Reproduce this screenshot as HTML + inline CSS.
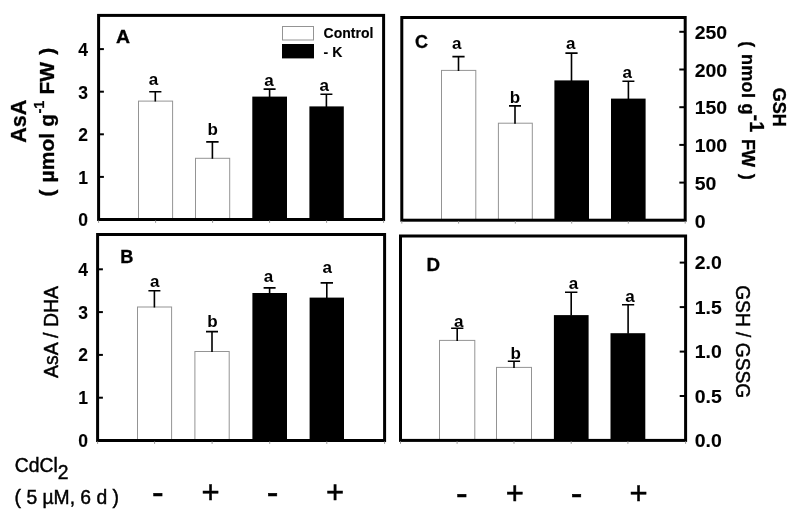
<!DOCTYPE html>
<html lang="en"><head><meta charset="utf-8"><title>Figure</title>
<style>html,body{margin:0;padding:0;background:#fff}svg{display:block}text{font-family:"Liberation Sans", Arial, Helvetica, sans-serif;fill:#000}.b{font-weight:bold;stroke:#000;stroke-width:.3px}.s{font-weight:bold}.t{font-weight:bold;stroke:#000;stroke-width:.1px}.l{font-weight:bold;stroke:#000;stroke-width:.15px}.r{stroke:#000;stroke-width:.45px}.pm{stroke:#000;stroke-width:.5px}</style></head><body>
<svg width="800" height="527" viewBox="0 0 800 527">
<rect x="0" y="0" width="800" height="527" fill="#fff"/>
<rect x="138.5" y="101.1" width="34.1" height="118.4" fill="#fff" stroke="#949494" stroke-width="1"/>
<path d="M155.3 101.6V91.8M149.2 91.8H161.4" stroke="#000" stroke-width="1.6" fill="none"/>
<rect x="195.5" y="158.3" width="34.2" height="61.2" fill="#fff" stroke="#949494" stroke-width="1"/>
<path d="M212.4 158.8V141.9M206.2 141.9H218.6" stroke="#000" stroke-width="1.6" fill="none"/>
<rect x="252.3" y="96.6" width="34.7" height="122.9" fill="#000"/>
<path d="M269.6 97.1V89.1M263.6 89.1H275.6" stroke="#000" stroke-width="1.6" fill="none"/>
<rect x="309.4" y="106.4" width="34.4" height="113.1" fill="#000"/>
<path d="M326.4 106.9V94.3M320.4 94.3H332.4" stroke="#000" stroke-width="1.6" fill="none"/>
<rect x="98.6" y="15.4" width="285.0" height="204.1" fill="none" stroke="#000" stroke-width="3.0"/>
<rect x="137.5" y="307.0" width="34.1" height="133.5" fill="#fff" stroke="#949494" stroke-width="1"/>
<path d="M154.4 307.5V290.8M148.4 290.8H160.4" stroke="#000" stroke-width="1.6" fill="none"/>
<rect x="194.9" y="351.5" width="34.3" height="89.0" fill="#fff" stroke="#949494" stroke-width="1"/>
<path d="M212.0 352.0V331.6M206.0 331.6H218.0" stroke="#000" stroke-width="1.6" fill="none"/>
<rect x="252.4" y="293.0" width="34.6" height="147.5" fill="#000"/>
<path d="M269.6 293.5V287.9M263.6 287.9H275.6" stroke="#000" stroke-width="1.6" fill="none"/>
<rect x="309.6" y="297.6" width="34.4" height="142.9" fill="#000"/>
<path d="M326.8 298.1V282.9M320.6 282.9H333.0" stroke="#000" stroke-width="1.6" fill="none"/>
<rect x="97.6" y="234.5" width="287.0" height="206.0" fill="none" stroke="#000" stroke-width="3.0"/>
<rect x="441.5" y="70.4" width="34.3" height="149.8" fill="#fff" stroke="#949494" stroke-width="1"/>
<path d="M458.5 70.9V56.6M452.4 56.6H464.6" stroke="#000" stroke-width="1.6" fill="none"/>
<rect x="498.4" y="123.2" width="33.9" height="97.0" fill="#fff" stroke="#949494" stroke-width="1"/>
<path d="M515.0 123.7V105.9M509.0 105.9H521.0" stroke="#000" stroke-width="1.6" fill="none"/>
<rect x="554.4" y="80.4" width="34.6" height="139.8" fill="#000"/>
<path d="M571.5 80.9V53.1M565.4 53.1H577.6" stroke="#000" stroke-width="1.6" fill="none"/>
<rect x="611.0" y="98.6" width="34.6" height="121.6" fill="#000"/>
<path d="M628.4 99.1V81.3M622.4 81.3H634.4" stroke="#000" stroke-width="1.6" fill="none"/>
<rect x="401.8" y="17.5" width="283.4" height="202.7" fill="none" stroke="#000" stroke-width="3.0"/>
<rect x="439.5" y="340.4" width="35.3" height="100.0" fill="#fff" stroke="#949494" stroke-width="1"/>
<path d="M457.2 340.9V328.3M451.1 328.3H463.4" stroke="#000" stroke-width="1.6" fill="none"/>
<rect x="496.5" y="367.4" width="35.0" height="73.0" fill="#fff" stroke="#949494" stroke-width="1"/>
<path d="M514.0 367.9V361.3M507.8 361.3H520.1" stroke="#000" stroke-width="1.6" fill="none"/>
<rect x="553.9" y="315.1" width="34.7" height="125.3" fill="#000"/>
<path d="M571.2 315.6V292.3M565.0 292.3H577.4" stroke="#000" stroke-width="1.6" fill="none"/>
<rect x="610.5" y="333.2" width="34.8" height="107.2" fill="#000"/>
<path d="M628.1 333.7V304.8M622.0 304.8H634.2" stroke="#000" stroke-width="1.6" fill="none"/>
<rect x="400.5" y="236.0" width="285.1" height="204.4" fill="none" stroke="#000" stroke-width="3.0"/>
<path d="M98.6 176.9H103.9" stroke="#000" stroke-width="2"/>
<path d="M98.6 134.3H103.9" stroke="#000" stroke-width="2"/>
<path d="M98.6 91.7H103.9" stroke="#000" stroke-width="2"/>
<path d="M98.6 49.1H103.9" stroke="#000" stroke-width="2"/>
<path d="M97.6 397.7H102.9" stroke="#000" stroke-width="2"/>
<path d="M97.6 354.9H102.9" stroke="#000" stroke-width="2"/>
<path d="M97.6 312.1H102.9" stroke="#000" stroke-width="2"/>
<path d="M97.6 269.3H102.9" stroke="#000" stroke-width="2"/>
<path d="M679.3 182.6H685.2" stroke="#000" stroke-width="2"/>
<path d="M679.3 144.9H685.2" stroke="#000" stroke-width="2"/>
<path d="M679.3 107.2H685.2" stroke="#000" stroke-width="2"/>
<path d="M679.3 69.5H685.2" stroke="#000" stroke-width="2"/>
<path d="M679.3 31.8H685.2" stroke="#000" stroke-width="2"/>
<path d="M679.7 396.0H685.6" stroke="#000" stroke-width="2"/>
<path d="M679.7 351.6H685.6" stroke="#000" stroke-width="2"/>
<path d="M679.7 307.1H685.6" stroke="#000" stroke-width="2"/>
<path d="M679.7 262.6H685.6" stroke="#000" stroke-width="2"/>
<path d="M98.6 220.5v2.4" stroke="#999" stroke-width="1"/>
<path d="M155.6 220.5v2.4" stroke="#999" stroke-width="1"/>
<path d="M212.6 220.5v2.4" stroke="#999" stroke-width="1"/>
<path d="M269.6 220.5v2.4" stroke="#999" stroke-width="1"/>
<path d="M326.6 220.5v2.4" stroke="#999" stroke-width="1"/>
<path d="M383.6 220.5v2.4" stroke="#999" stroke-width="1"/>
<path d="M97.6 441.5v2.4" stroke="#999" stroke-width="1"/>
<path d="M154.6 441.5v2.4" stroke="#999" stroke-width="1"/>
<path d="M212.1 441.5v2.4" stroke="#999" stroke-width="1"/>
<path d="M269.7 441.5v2.4" stroke="#999" stroke-width="1"/>
<path d="M326.8 441.5v2.4" stroke="#999" stroke-width="1"/>
<path d="M384.6 441.5v2.4" stroke="#999" stroke-width="1"/>
<path d="M401.8 221.2v2.4" stroke="#999" stroke-width="1"/>
<path d="M458.6 221.2v2.4" stroke="#999" stroke-width="1"/>
<path d="M515.3 221.2v2.4" stroke="#999" stroke-width="1"/>
<path d="M571.7 221.2v2.4" stroke="#999" stroke-width="1"/>
<path d="M628.3 221.2v2.4" stroke="#999" stroke-width="1"/>
<path d="M685.2 221.2v2.4" stroke="#999" stroke-width="1"/>
<path d="M400.5 441.4v2.4" stroke="#999" stroke-width="1"/>
<path d="M457.1 441.4v2.4" stroke="#999" stroke-width="1"/>
<path d="M514.0 441.4v2.4" stroke="#999" stroke-width="1"/>
<path d="M571.2 441.4v2.4" stroke="#999" stroke-width="1"/>
<path d="M627.9 441.4v2.4" stroke="#999" stroke-width="1"/>
<path d="M685.6 441.4v2.4" stroke="#999" stroke-width="1"/>
<text x="88.0" y="226.4" font-size="17.5" text-anchor="end" class="t">0</text>
<text x="88.0" y="183.8" font-size="17.5" text-anchor="end" class="t">1</text>
<text x="88.0" y="141.2" font-size="17.5" text-anchor="end" class="t">2</text>
<text x="88.0" y="98.6" font-size="17.5" text-anchor="end" class="t">3</text>
<text x="88.0" y="56.0" font-size="17.5" text-anchor="end" class="t">4</text>
<text x="88.0" y="446.9" font-size="17.5" text-anchor="end" class="t">0</text>
<text x="88.0" y="404.1" font-size="17.5" text-anchor="end" class="t">1</text>
<text x="88.0" y="361.3" font-size="17.5" text-anchor="end" class="t">2</text>
<text x="88.0" y="318.5" font-size="17.5" text-anchor="end" class="t">3</text>
<text x="88.0" y="275.7" font-size="17.5" text-anchor="end" class="t">4</text>
<text transform="translate(694.7 227.5) scale(1.080 1)" font-size="18.0" text-anchor="start" class="t">0</text>
<text transform="translate(694.7 189.8) scale(1.080 1)" font-size="18.0" text-anchor="start" class="t">50</text>
<text transform="translate(694.7 152.1) scale(1.080 1)" font-size="18.0" text-anchor="start" class="t">100</text>
<text transform="translate(694.7 114.4) scale(1.080 1)" font-size="18.0" text-anchor="start" class="t">150</text>
<text transform="translate(694.7 76.7) scale(1.080 1)" font-size="18.0" text-anchor="start" class="t">200</text>
<text transform="translate(694.7 39.0) scale(1.080 1)" font-size="18.0" text-anchor="start" class="t">250</text>
<text transform="translate(694.7 447.1) scale(1.080 1)" font-size="18.0" text-anchor="start" class="t">0.0</text>
<text transform="translate(694.7 402.6) scale(1.080 1)" font-size="18.0" text-anchor="start" class="t">0.5</text>
<text transform="translate(694.7 358.2) scale(1.080 1)" font-size="18.0" text-anchor="start" class="t">1.0</text>
<text transform="translate(694.7 313.7) scale(1.080 1)" font-size="18.0" text-anchor="start" class="t">1.5</text>
<text transform="translate(694.7 269.2) scale(1.080 1)" font-size="18.0" text-anchor="start" class="t">2.0</text>
<text transform="translate(116.0 43.0) scale(1.080 1)" font-size="18.0" text-anchor="start" class="b">A</text>
<text transform="translate(120.3 263.0) scale(1.040 1)" font-size="17.5" text-anchor="start" class="b">B</text>
<text x="415.0" y="48.4" font-size="18.0" text-anchor="start" class="b">C</text>
<text transform="translate(426.5 271.0) scale(1.040 1)" font-size="18.0" text-anchor="start" class="b">D</text>
<text x="153.5" y="84.5" font-size="17.0" text-anchor="middle" class="s">a</text>
<text x="212.8" y="134.8" font-size="17.0" text-anchor="middle" class="s">b</text>
<text x="269.0" y="85.6" font-size="17.0" text-anchor="middle" class="s">a</text>
<text x="324.3" y="91.0" font-size="17.0" text-anchor="middle" class="s">a</text>
<text x="154.7" y="287.0" font-size="17.0" text-anchor="middle" class="s">a</text>
<text x="212.4" y="327.0" font-size="17.0" text-anchor="middle" class="s">b</text>
<text x="268.5" y="282.0" font-size="17.0" text-anchor="middle" class="s">a</text>
<text x="327.2" y="273.0" font-size="17.0" text-anchor="middle" class="s">a</text>
<text x="456.8" y="49.4" font-size="17.0" text-anchor="middle" class="s">a</text>
<text x="515.0" y="102.5" font-size="17.0" text-anchor="middle" class="s">b</text>
<text x="570.8" y="49.4" font-size="17.0" text-anchor="middle" class="s">a</text>
<text x="627.2" y="78.0" font-size="17.0" text-anchor="middle" class="s">a</text>
<text x="458.7" y="326.5" font-size="17.0" text-anchor="middle" class="s">a</text>
<text x="515.6" y="359.4" font-size="17.0" text-anchor="middle" class="s">b</text>
<text x="573.6" y="289.0" font-size="17.0" text-anchor="middle" class="s">a</text>
<text x="630.0" y="301.8" font-size="17.0" text-anchor="middle" class="s">a</text>
<rect x="282.5" y="26.5" width="31" height="13.5" fill="#fff" stroke="#949494" stroke-width="1"/>
<rect x="282" y="44" width="32" height="14.4" fill="#000"/>
<text x="323.6" y="38.4" font-size="14.0" text-anchor="start" class="l">Control</text>
<text x="323.6" y="57.0" font-size="14.0" text-anchor="start" class="l">- K</text>
<text class="b" font-size="21.5" text-anchor="middle" transform="translate(25.6 121.2) rotate(-90)">AsA</text>
<text class="b" font-size="21" word-spacing="1.2" text-anchor="middle" transform="translate(54.4 122.1) rotate(-90)">( µmol <tspan dx="-0.9">g</tspan><tspan font-size="14.5" dy="-10.4" dx="0.4">-1</tspan><tspan dy="10.4" dx="-0.8"> FW )</tspan></text>
<text class="r" font-size="20" text-anchor="middle" transform="translate(57.8 332) rotate(-90) scale(.975 1)">AsA / DHA</text>
<text class="b" font-size="18" text-anchor="middle" transform="translate(772.8 107.3) rotate(90)">GSH</text>
<text class="b" font-size="18" word-spacing="1.7" text-anchor="middle" transform="translate(741.5 110.5) rotate(90)">( <tspan letter-spacing=".35">nmol</tspan><tspan dx="-1.4"> g</tspan><tspan font-size="20" dy="-8.5">-1</tspan><tspan dy="8.5"> FW )</tspan></text>
<text class="r" font-size="20.5" text-anchor="middle" transform="translate(736.4 341.7) rotate(90) scale(.937 1)">GSH / GSSG</text>
<text class="r" font-size="20" transform="translate(14.8 471.8) scale(.965 1)">CdCl<tspan dy="6.8">2</tspan></text>
<text class="r" font-size="20" transform="translate(14.6 504) scale(.965 1)">( 5 µM, 6 d )</text>
<text class="pm" font-size="33" text-anchor="middle" transform="translate(157.8 504.4) scale(1.06 1)">-</text>
<text class="pm" font-size="31" text-anchor="middle" x="210.6" y="502.8">+</text>
<text class="pm" font-size="33" text-anchor="middle" transform="translate(272.5 504.4) scale(1.06 1)">-</text>
<text class="pm" font-size="31" text-anchor="middle" x="335.0" y="502.8">+</text>
<text class="pm" font-size="33" text-anchor="middle" transform="translate(461.7 505.4) scale(1.06 1)">-</text>
<text class="pm" font-size="31" text-anchor="middle" x="514.8" y="503.8">+</text>
<text class="pm" font-size="33" text-anchor="middle" transform="translate(576.6 505.4) scale(1.06 1)">-</text>
<text class="pm" font-size="31" text-anchor="middle" x="638.6" y="503.8">+</text>
</svg></body></html>
